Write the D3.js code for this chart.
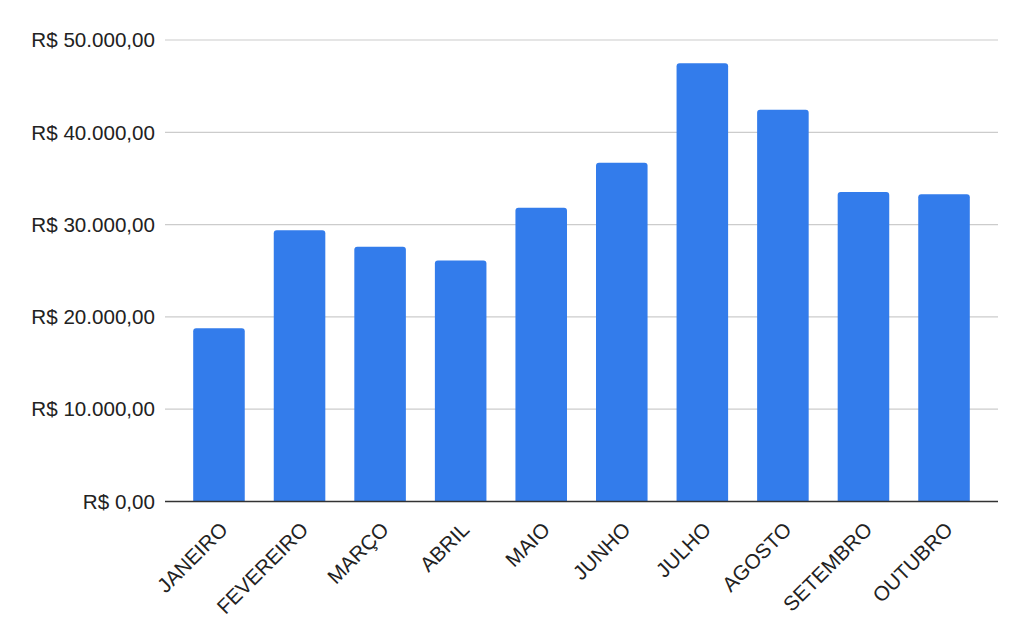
<!DOCTYPE html>
<html><head><meta charset="utf-8">
<script src="https://cdn.jsdelivr.net/npm/d3@7"></script>
<style>html,body{margin:0;padding:0;background:#fff}svg{display:block}</style>
</head><body>
<svg id="c" width="1024" height="631"></svg>
<script>
const categories = ["JANEIRO","FEVEREIRO","MARÇO","ABRIL","MAIO","JUNHO","JULHO","AGOSTO","SETEMBRO","OUTUBRO"];
const values = [18780, 29400, 27600, 26100, 31820, 36700, 47480, 42450, 33520, 33300];
const yTicks = [0, 10000, 20000, 30000, 40000, 50000];
const yTickLabels = ["R$ 0,00","R$ 10.000,00","R$ 20.000,00","R$ 30.000,00","R$ 40.000,00","R$ 50.000,00"];

(function () {
const svg = d3.select("#c");
const mLeft = 165, mRight = 998, mTop = 40, mBottom = 501.5;
const x = d3.scaleBand().domain(categories).range([mLeft, mRight]).paddingInner(0.36).paddingOuter(0.35);
const y = d3.scaleLinear().domain([0, 50000]).range([mBottom, mTop]);
const font = "Arial, 'Liberation Sans', sans-serif";

// gridlines
svg.append("g").selectAll("line").data(yTicks.slice(1)).join("line")
  .attr("x1", mLeft).attr("x2", mRight)
  .attr("y1", d => y(d)).attr("y2", d => y(d))
  .attr("stroke", "#cccccc").attr("stroke-width", 1.2);

// y labels
svg.append("g").selectAll("text").data(yTicks).join("text")
  .attr("x", 155).attr("y", d => y(d)).attr("dy", "0.35em")
  .attr("text-anchor", "end").attr("font-family", font).attr("font-size", 20.6)
  .attr("fill", "#222").text((d, i) => yTickLabels[i]);

// bars with rounded top corners
const r = 3;
svg.append("g").selectAll("path").data(values).join("path")
  .attr("fill", "#337ceb")
  .attr("d", (v, i) => {
    const x0 = x(categories[i]), w = x.bandwidth(), yt = y(v), yb = y(0);
    return `M${x0},${yb}V${yt + r}Q${x0},${yt} ${x0 + r},${yt}H${x0 + w - r}Q${x0 + w},${yt} ${x0 + w},${yt + r}V${yb}Z`;
  });

// baseline
svg.append("line").attr("x1", mLeft).attr("x2", mRight)
  .attr("y1", y(0)).attr("y2", y(0)).attr("stroke", "#333").attr("stroke-width", 1.5);

// x labels
svg.append("g").selectAll("text").data(categories).join("text")
  .attr("transform", d => `translate(${x(d) + x.bandwidth() / 2 + 10},${531}) rotate(-45)`)
  .attr("text-anchor", "end").attr("font-family", font).attr("font-size", 20.6)
  .attr("fill", "#222").text(d => d);
})();
</script>
</body></html>
